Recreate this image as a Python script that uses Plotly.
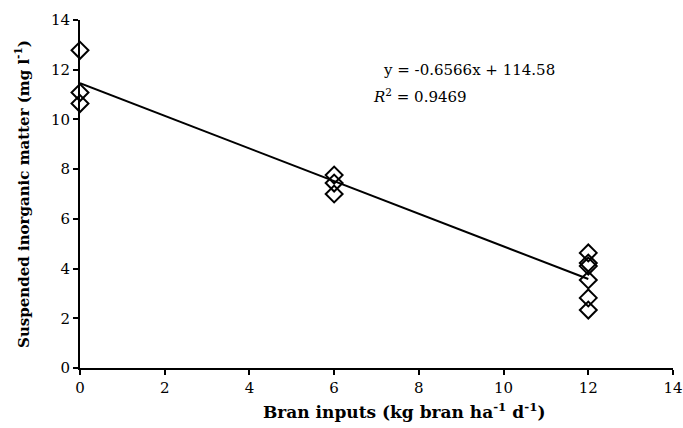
import plotly.graph_objects as go

# Observations: bran input rate vs suspended inorganic matter
bran_input = [0, 0, 0, 6, 6, 6, 12, 12, 12, 12, 12, 12]
inorganic_matter = [12.78, 11.08, 10.64, 7.76, 7.44, 7.0, 4.63, 4.22, 4.1, 3.54, 2.82, 2.33]

# Linear trend line
slope = -0.6566
intercept = 11.458
trend_x = [0, 12]
trend_y = [intercept + slope * x for x in trend_x]

equation_text = "y = -0.6566x + 114.58"
r2_text = "<i>R</i><sup>2</sup> = 0.9469"
x_title = "<b>Bran inputs (kg bran ha<sup>-1</sup> d<sup>-1</sup>)</b>"
y_title = "<b>Suspended inorganic matter (mg l<sup>-1</sup>)</b>"

tick_values = [0, 2, 4, 6, 8, 10, 12, 14]

serif = "DejaVu Serif, Liberation Serif, serif"

fig = go.Figure()
fig.add_trace(go.Scatter(
    x=trend_x, y=trend_y, mode="lines",
    line=dict(color="black", width=2), hoverinfo="skip", showlegend=False,
    cliponaxis=False))
fig.add_trace(go.Scatter(
    x=bran_input, y=inorganic_matter, mode="markers",
    marker=dict(symbol="diamond-open", size=13, color="black",
                line=dict(color="black", width=2)),
    showlegend=False, cliponaxis=False))

fig.add_annotation(xref="paper", yref="paper", x=0.508, y=0.857,
                   xanchor="left", yanchor="middle", showarrow=False,
                   text=equation_text, font=dict(family=serif, size=15, color="black"))
fig.add_annotation(xref="paper", yref="paper", x=0.490, y=0.783,
                   xanchor="left", yanchor="middle", showarrow=False,
                   text=r2_text, font=dict(family=serif, size=15, color="black"))

# x-axis title, centred a little right of the plot centre
fig.add_annotation(xref="paper", yref="paper", x=0.546, y=-0.123,
                   xanchor="center", yanchor="middle", showarrow=False,
                   text=x_title, font=dict(family=serif, size=17, color="black"))

axis_common = dict(
    showgrid=False, zeroline=False, showline=True, linecolor="black", linewidth=2,
    ticks="outside", ticklen=5, tickwidth=2, tickcolor="black",
    tickfont=dict(family=serif, size=15, color="black"),
    tickvals=tick_values, ticktext=[str(v) for v in tick_values],
    ticklabeloverflow="allow",
)

fig.update_xaxes(range=[0, 14], **axis_common)
fig.update_yaxes(range=[0, 14], **axis_common,
                 title=dict(text=y_title,
                            font=dict(family=serif, size=15, color="black"), standoff=18))

fig.update_layout(
    width=683, height=428,
    margin=dict(l=80, r=10, t=20, b=60, autoexpand=False),
    plot_bgcolor="white", paper_bgcolor="white",
)

fig.write_html("out.html")
